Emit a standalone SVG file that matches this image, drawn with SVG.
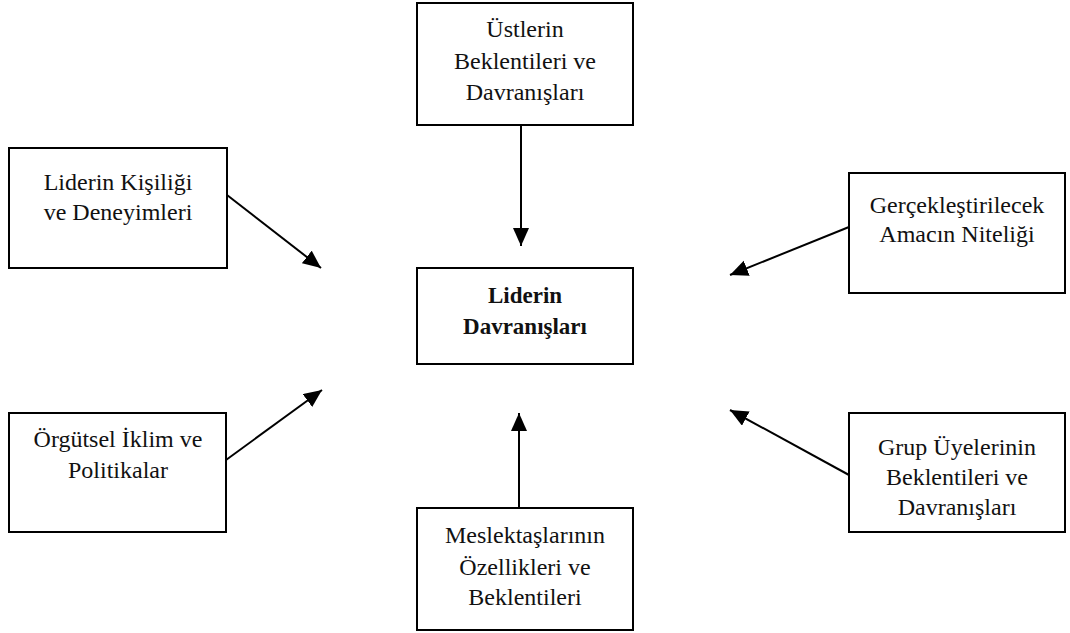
<svg xmlns="http://www.w3.org/2000/svg" width="1070" height="633" viewBox="0 0 1070 633">
<style>
.box{fill:#fff;stroke:#000;stroke-width:2}
.t{font-family:"Liberation Serif","Times New Roman",serif;font-size:24px;fill:#111;text-anchor:middle}
.b{font-weight:bold;font-size:23px}
.c{stroke:#000;stroke-width:2;fill:none}
</style>
<defs>
<marker id="ah" markerUnits="userSpaceOnUse" markerWidth="19" markerHeight="17" refX="18" refY="8" orient="auto">
<path d="M0,0 L18,8 L0,16 z" fill="#000"/>
</marker>
</defs>
<rect width="1070" height="633" fill="#fff"/>
<g id="connectors">
<line class="c" x1="521" y1="125" x2="521" y2="246" marker-end="url(#ah)"/>
<line class="c" x1="227" y1="195" x2="321" y2="268" marker-end="url(#ah)"/>
<line class="c" x1="849" y1="227" x2="730" y2="275" marker-end="url(#ah)"/>
<line class="c" x1="226" y1="460" x2="322" y2="390" marker-end="url(#ah)"/>
<line class="c" x1="849" y1="475" x2="730" y2="410" marker-end="url(#ah)"/>
<line class="c" x1="519" y1="508" x2="519" y2="413" marker-end="url(#ah)"/>
</g>
<g id="ustler">
<rect class="box" x="417" y="3" width="216" height="122"/>
<text class="t" x="525" y="37">Üstlerin</text>
<text class="t" x="525" y="69">Beklentileri ve</text>
<text class="t" x="525" y="100">Davranışları</text>
</g>
<g id="kisilik">
<rect class="box" x="9" y="148" width="218" height="120"/>
<text class="t" x="118" y="190">Liderin Kişiliği</text>
<text class="t" x="118" y="220">ve Deneyimleri</text>
</g>
<g id="amac">
<rect class="box" x="849" y="173" width="216" height="120"/>
<text class="t" x="957" y="213">Gerçekleştirilecek</text>
<text class="t" x="957" y="242">Amacın Niteliği</text>
</g>
<g id="merkez">
<rect class="box" x="417" y="268" width="216" height="96"/>
<text class="t b" x="525" y="303">Liderin</text>
<text class="t b" x="525" y="334">Davranışları</text>
</g>
<g id="iklim">
<rect class="box" x="9" y="413" width="217" height="119"/>
<text class="t" x="118" y="447">Örgütsel İklim ve</text>
<text class="t" x="118" y="478">Politikalar</text>
</g>
<g id="grup">
<rect class="box" x="849" y="413" width="216" height="119"/>
<text class="t" x="957" y="455">Grup Üyelerinin</text>
<text class="t" x="957" y="485">Beklentileri ve</text>
<text class="t" x="957" y="515">Davranışları</text>
</g>
<g id="meslektas">
<rect class="box" x="417" y="508" width="216" height="122"/>
<text class="t" x="525" y="543">Meslektaşlarının</text>
<text class="t" x="525" y="575">Özellikleri ve</text>
<text class="t" x="525" y="605">Beklentileri</text>
</g>
</svg>
